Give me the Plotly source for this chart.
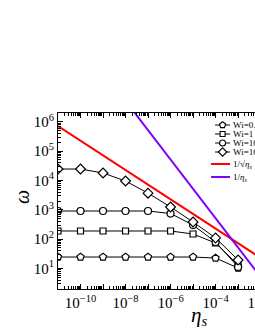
import plotly.graph_objects as go

eta = [1e-11, 1e-10, 1e-9, 1e-8, 1e-7, 1e-6, 1e-5, 1e-4, 1e-3]
omega_pent = [24.6, 24.6, 24.6, 24.6, 24.6, 24.6, 24.6, 22.7, 10.4]
omega_square = [190, 190, 190, 190, 190, 190, 150, 74, 13.2]
omega_circle = [912, 912, 912, 912, 912, 748, 303, 80, 11.3]
omega_diamond = [2.46e4, 2.46e4, 1.8e4, 9.6e3, 3.7e3, 1.25e3, 385, 110, 19.5]
series_names = ["Wi=0.1", "Wi=1", "Wi=10", "Wi=100"]
series_symbols = ["pentagon", "square", "circle", "diamond"]

red_eta = [1e-11, 1e-1]
red_omega = [7.2e5, 7.3]
red_name = "1/√<i>η<sub>s</sub></i>"
purple_eta = [1e-8, 1e-1]
purple_omega = [5.2e6, 0.52]
purple_name = "1/<i>η<sub>s</sub></i>"

x_decades = list(range(-11, 2))
x_ticktext = ["10<sup>−%d</sup>" % (-d) if d % 2 == 0 and d < 0 else ("1" if d == 0 else "") for d in x_decades]
y_decades = list(range(0, 7))
y_ticktext = ["10<sup>%d</sup>" % d if d >= 1 else "" for d in y_decades]

FONT = "Liberation Serif"
W, H = 380, 330
L, T, B = 58, 113, 41
X_MAX_LOG = 1.35
PW = 22.5 * (X_MAX_LOG + 11)
R = W - L - PW
PH = H - T - B

def px_to_paper(xp, yp):
    return (xp - L) / PW, (T + PH - yp) / PH

fig = go.Figure()
sizes = {"pentagon": 7.5, "square": 6, "circle": 7, "diamond": 7.5}
for name, sym, ys in zip(series_names, series_symbols,
                         [omega_pent, omega_square, omega_circle, omega_diamond]):
    fig.add_trace(go.Scatter(
        x=eta, y=ys, name=name, mode="lines+markers",
        line=dict(color="black", width=1),
        marker=dict(symbol=sym, size=sizes[sym], color="white",
                    line=dict(color="black", width=1.2)),
        showlegend=False,
    ))
fig.add_trace(go.Scatter(x=red_eta, y=red_omega, mode="lines", name=red_name,
                         line=dict(color="#ff0000", width=2), showlegend=False))
fig.add_trace(go.Scatter(x=purple_eta, y=purple_omega, mode="lines", name=purple_name,
                         line=dict(color="#8000ff", width=2), showlegend=False))

# custom compact legend on an overlay axis measured in pixels
leg_rows = [125, 134, 143, 152, 164, 177]
leg_x0, leg_x1, leg_tx = 215, 230, 232
leg_sizes = {"pentagon": 6.5, "square": 5, "circle": 6, "diamond": 6.5}
for i, (name, sym) in enumerate(zip(series_names, series_symbols)):
    fig.add_trace(go.Scatter(x=[leg_x0, leg_x1], y=[leg_rows[i]] * 2, mode="lines",
                             line=dict(color="black", width=1), xaxis="x2", yaxis="y2",
                             showlegend=False, hoverinfo="skip"))
    fig.add_trace(go.Scatter(x=[(leg_x0 + leg_x1) / 2], y=[leg_rows[i]], mode="markers",
                             marker=dict(symbol=sym, size=leg_sizes[sym], color="white",
                                         line=dict(color="black", width=1.1)),
                             xaxis="x2", yaxis="y2", showlegend=False, hoverinfo="skip"))
for j, col in enumerate(["#ff0000", "#8000ff"]):
    fig.add_trace(go.Scatter(x=[leg_x0 - 4, leg_x1], y=[leg_rows[4 + j]] * 2, mode="lines",
                             line=dict(color=col, width=2), xaxis="x2", yaxis="y2",
                             showlegend=False, hoverinfo="skip"))
leg_names = series_names + [red_name, purple_name]
annotations = []
for name, yy in zip(leg_names, leg_rows):
    annotations.append(dict(x=leg_tx, y=yy, xref="x2", yref="y2", text=name, showarrow=False,
                            xanchor="left", yanchor="middle", borderpad=0,
                            font=dict(family=FONT, size=9, color="black")))
ox, oy = px_to_paper(22, 197)
annotations.append(dict(x=ox, y=oy, xref="paper", yref="paper", text="<i>ω</i>", showarrow=False,
                        textangle=-90, xanchor="center", yanchor="middle",
                        font=dict(family=FONT, size=20, color="black")))
ex, ey = px_to_paper(199, 316)
annotations.append(dict(x=ex, y=ey, xref="paper", yref="paper", text="<i>η<sub>s</sub></i>",
                        showarrow=False, xanchor="center", yanchor="middle", borderpad=0,
                        font=dict(family=FONT, size=21, color="black")))

axis_common = dict(
    type="log", showline=True, linecolor="black", linewidth=1, mirror="ticks",
    ticks="inside", ticklen=5, tickwidth=1, tickcolor="black",
    showgrid=False, zeroline=False, tickmode="array",
    tickfont=dict(family=FONT, size=15, color="black"),
)
x_minor = [m * 10 ** d for d in x_decades for m in range(2, 10)]
y_minor = [m * 10 ** d for d in y_decades for m in range(2, 10)]
fig.update_layout(
    xaxis=dict(range=[-11, X_MAX_LOG], tickvals=[10 ** d for d in x_decades], ticktext=x_ticktext,
               minor=dict(tickmode="array", tickvals=x_minor, ticks="inside", ticklen=3,
                          tickcolor="black", showgrid=False),
               **axis_common),
    yaxis=dict(range=[0.301, 6.301], tickvals=[10 ** d for d in y_decades], ticktext=y_ticktext,
               minor=dict(tickmode="array", tickvals=y_minor, ticks="inside", ticklen=3,
                          tickcolor="black", showgrid=False),
               **axis_common),
    xaxis2=dict(overlaying="x", range=[L, L + PW], visible=False, fixedrange=True),
    yaxis2=dict(overlaying="y", range=[T + PH, T], visible=False, fixedrange=True, anchor="x2"),
    width=W, height=H,
    margin=dict(l=L, r=R, t=T, b=B),
    paper_bgcolor="white", plot_bgcolor="white",
    showlegend=False,
    annotations=annotations,
)

fig.write_html("out.html", config={"displayModeBar": False},
               post_script="document.body.style.margin='0';document.body.style.overflow='hidden';document.documentElement.style.overflow='hidden';")
